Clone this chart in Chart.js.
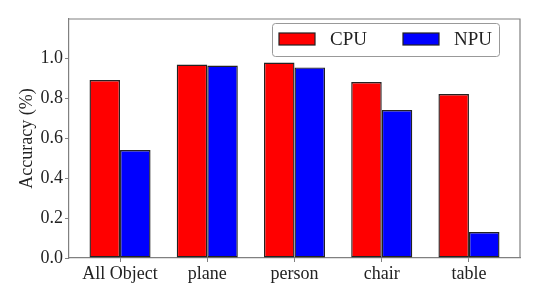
<!DOCTYPE html>
<html>
<head>
<meta charset="utf-8">
<script src="https://cdn.jsdelivr.net/npm/chart.js@4.4.1/dist/chart.umd.min.js"></script>
<style>
  html, body { margin: 0; padding: 0; background: #fff; }
  #wrap { width: 540px; height: 300px; }
</style>
</head>
<body>
<div id="wrap"><canvas id="chart"></canvas></div>
<script>
// Categories and accuracy values
const categories = ['All Object', 'plane', 'person', 'chair', 'table'];
const cpuAcc = [0.89, 0.967, 0.977, 0.88, 0.82];
const npuAcc = [0.54, 0.962, 0.953, 0.74, 0.13];
const yTicks = [0.0, 0.2, 0.4, 0.6, 0.8, 1.0];

const FONT = 'Liberation Serif';
const SPINE = '#808080';
const EDGE = '#222';

Chart.defaults.font.family = FONT;
Chart.defaults.color = '#222';

function points(values) {
  return values.map((v, i) => ({ x: i, y: v }));
}

// top/right spines + framed legend, matplotlib style
const framePlugin = {
  id: 'frame',
  afterDraw(chart) {
    const { ctx, chartArea: a } = chart;
    ctx.save();
    ctx.strokeStyle = SPINE;
    ctx.lineWidth = 1.2;
    ctx.beginPath();
    ctx.moveTo(a.left, a.top);
    ctx.lineTo(a.right, a.top);
    ctx.lineTo(a.right, a.bottom);
    ctx.stroke();

    // legend box
    const bx = 272.5, by = 23.5, bw = 227, bh = 33;
    ctx.fillStyle = 'rgba(255,255,255,0.8)';
    ctx.strokeStyle = '#999';
    ctx.lineWidth = 1;
    ctx.beginPath();
    ctx.roundRect(bx, by, bw, bh, 3);
    ctx.fill();
    ctx.stroke();

    ctx.font = '19px ' + FONT;
    ctx.textBaseline = 'middle';
    const xs = [279, 403];
    chart.data.datasets.forEach((ds, i) => {
      const px = xs[i];
      ctx.fillStyle = ds.backgroundColor;
      ctx.fillRect(px, 33, 36, 12);
      ctx.strokeStyle = EDGE;
      ctx.lineWidth = 1.2;
      ctx.strokeRect(px, 33, 36, 12);
      ctx.fillStyle = '#222';
      ctx.fillText(ds.label, px + 51, 40);
    });
    ctx.restore();
  }
};

new Chart(document.getElementById('chart'), {
  type: 'bar',
  data: {
    datasets: [
      { label: 'CPU', data: points(cpuAcc), backgroundColor: '#ff0000', borderColor: EDGE, borderWidth: 1.4, borderSkipped: false },
      { label: 'NPU', data: points(npuAcc), backgroundColor: '#0000ff', borderColor: EDGE, borderWidth: 1.4, borderSkipped: false },
    ],
  },
  options: {
    animation: false,
    responsive: true,
    maintainAspectRatio: false,
    categoryPercentage: 0.7,
    barPercentage: 1.0,
    layout: { padding: { top: 19, right: 20, left: 0, bottom: 0 } },
    plugins: {
      legend: { display: false },
      tooltip: { enabled: false },
    },
    scales: {
      x: {
        type: 'linear',
        offset: false,
        min: -0.585,
        max: 4.585,
        afterBuildTicks: (s) => { s.ticks = categories.map((_, i) => ({ value: i })); },
        afterFit: (s) => { s.height = 42; },
        ticks: {
          color: '#222',
          font: { family: FONT, size: 18 },
          padding: 1,
          maxRotation: 0,
          autoSkip: false,
          callback: (v) => categories[v] ?? '',
        },
        grid: { offset: false, drawOnChartArea: false, color: SPINE, tickLength: 4 },
        border: { color: SPINE, width: 1.2 },
      },
      y: {
        min: 0,
        max: 1.195,
        afterBuildTicks: (s) => { s.ticks = yTicks.map((v) => ({ value: v })); },
        afterFit: (s) => { s.width = 69; },
        ticks: {
          color: '#222',
          font: { family: FONT, size: 18 },
          padding: 2,
          callback: (v) => Number(v).toFixed(1),
        },
        title: {
          display: true,
          text: 'Accuracy (%)',
          color: '#222',
          font: { family: FONT, size: 18 },
          padding: { top: 16, bottom: 0 },
        },
        grid: { drawOnChartArea: false, color: SPINE, tickLength: 4 },
        border: { color: SPINE, width: 1.2 },
      },
    },
  },
  plugins: [framePlugin],
});
</script>
</body>
</html>
